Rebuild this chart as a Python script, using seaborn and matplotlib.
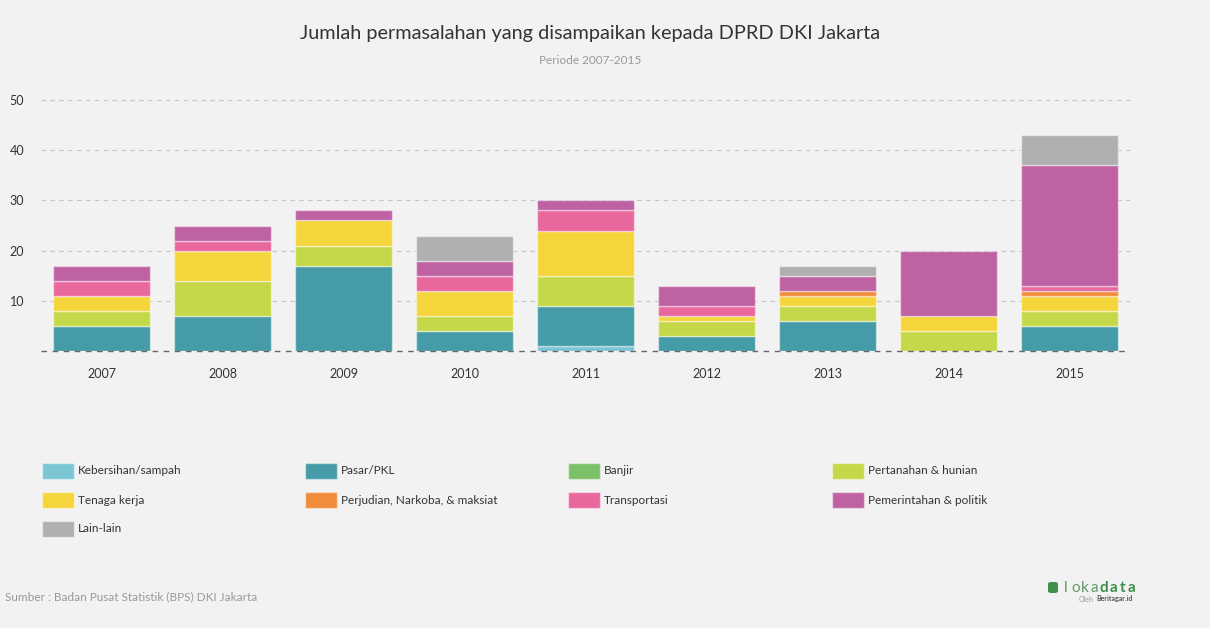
import numpy as np
import matplotlib.pyplot as plt
import matplotlib.patches as mpatches
import seaborn as sns

# data
years = ['2007', '2008', '2009', '2010', '2011', '2012', '2013', '2014', '2015']
kebersihan = [0, 0, 0, 0, 1, 0, 0, 0, 0]
pasar = [5, 7, 17, 4, 8, 3, 6, 0, 5]
banjir = [0, 0, 0, 0, 0, 0, 0, 0, 0]
pertanahan = [3, 7, 4, 3, 6, 3, 3, 4, 3]
tenaga_kerja = [3, 6, 5, 5, 9, 1, 2, 3, 3]
perjudian = [0, 0, 0, 0, 0, 0, 1, 0, 1]
transportasi = [3, 2, 0, 3, 4, 2, 0, 0, 1]
pemerintahan = [3, 3, 2, 3, 2, 4, 3, 13, 24]
lain_lain = [0, 0, 0, 5, 0, 0, 2, 0, 6]

categories = ['Kebersihan/sampah', 'Pasar/PKL', 'Banjir', 'Pertanahan & hunian',
              'Tenaga kerja', 'Perjudian, Narkoba, & maksiat', 'Transportasi',
              'Pemerintahan & politik', 'Lain-lain']
series = [kebersihan, pasar, banjir, pertanahan, tenaga_kerja, perjudian,
          transportasi, pemerintahan, lain_lain]
colors = ['#7cc5d4', '#469ba8', '#7dc06a', '#c5d84a', '#f4d63c', '#f08c3a',
          '#e8689e', '#bf62a4', '#b0b0b0']

sns.set_style('white')
plt.rcParams['font.family'] = ['Lato', 'DejaVu Sans']

bg = '#f2f2f2'
W, H = 1210, 628
fig = plt.figure(figsize=(W / 100, H / 100), dpi=100, facecolor=bg)
ax = fig.add_axes([41 / W, 1 - 351 / H, (1130 - 41) / W, (351 - 98.5) / H])
ax.set_facecolor(bg)

bottom = np.zeros(len(years))
for name, vals, c in zip(categories, series, colors):
    sns.barplot(x=years, y=vals, bottom=bottom, color=c, width=0.8, saturation=1,
                edgecolor=(1, 1, 1, 0.45), linewidth=1, ax=ax)
    bottom = bottom + np.array(vals)

# hide empty segments
for p in ax.patches:
    if p.get_height() == 0:
        p.set_visible(False)

ax.set_xlim(-0.5, 8.5)
ax.set_ylim(0, 50.3)
ax.set_yticks([10, 20, 30, 40, 50])
ax.yaxis.grid(True, linestyle=(0, (4, 4)), color='#c4c4c4', linewidth=0.8)
ax.set_axisbelow(True)
ax.axhline(0, color='#666666', linestyle=(0, (4, 4)), linewidth=1, zorder=5, clip_on=False)
sns.despine(ax=ax, left=True, bottom=True)
ax.tick_params(axis='y', length=0, pad=12, labelsize=9, labelcolor='#333333')
ax.tick_params(axis='x', length=0, pad=12, labelsize=9, labelcolor='#333333')
ax.set_xlabel('')
ax.set_ylabel('')

fig.text(590 / W, 1 - 33 / H, 'Jumlah permasalahan yang disampaikan kepada DPRD DKI Jakarta',
         ha='center', va='center', fontsize=14.3, color='#333333')
fig.text(590 / W, 1 - 61 / H, 'Periode 2007-2015', ha='center', va='center',
         fontsize=8.5, color='#999999')

# legend, 4 columns
col_x = [42, 305, 568, 832]
row_y = [471, 500, 529]
for i, (name, c) in enumerate(zip(categories, colors)):
    x0 = col_x[i % 4]
    y0 = row_y[i // 4]
    fig.add_artist(mpatches.Rectangle((x0 / W, 1 - (y0 + 8) / H), 32 / W, 16 / H,
                                      transform=fig.transFigure, facecolor=c,
                                      edgecolor=(1, 1, 1, 0.45), linewidth=1))
    fig.text((x0 + 36) / W, 1 - y0 / H, name, ha='left', va='center',
             fontsize=8.5, color='#333333')

fig.text(5 / W, 1 - 597 / H, 'Sumber : Badan Pusat Statistik (BPS) DKI Jakarta',
         ha='left', va='center', fontsize=8.5, color='#999999')

# logo
fig.add_artist(mpatches.FancyBboxPatch((1048 / W, 1 - 593 / H), 10 / W, 11 / H,
                                       boxstyle='round,pad=0,rounding_size=0.003',
                                       transform=fig.transFigure, facecolor='#3f8f4a',
                                       edgecolor='none'))
for k, ch in enumerate('lokadata'):
    bold = k >= 4
    fig.text((1066 + k * 9.4) / W, 1 - 588 / H, ch, ha='center', va='center', fontsize=11,
             color='#3f8f4a' if bold else '#5f9a66',
             fontweight='bold' if bold else 'normal')
fig.text(1094 / W, 1 - 599 / H, 'Oleh', ha='right', va='center',
         fontsize=5, color='#999999')
fig.text(1096 / W, 1 - 599 / H, 'Beritagar.id', ha='left', va='center',
         fontsize=5, color='#555555', fontweight='bold')

fig.savefig('out.png', dpi=100, facecolor=bg)
